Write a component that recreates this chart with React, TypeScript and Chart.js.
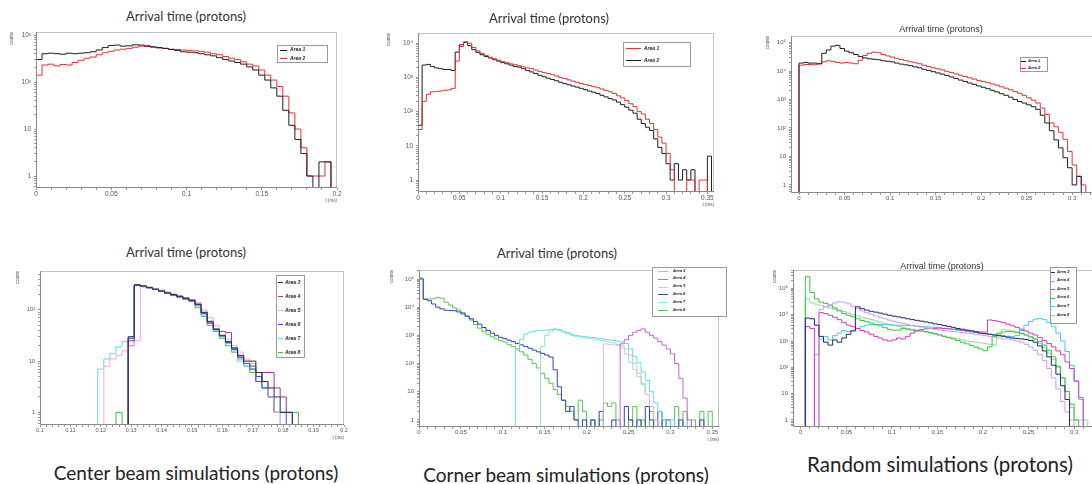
import React, { useEffect, useRef } from 'react';
import { Chart, registerables } from 'chart.js';

Chart.register(...registerables);

// ---------------- texts & tick labels ----------------
const PANEL_TITLE = 'Arrival time (protons)';
const CAPTION_CENTER = 'Center beam simulations (protons)';
const CAPTION_CORNER = 'Corner beam simulations (protons)';
const CAPTION_RANDOM = 'Random simulations (protons)';
const Y_TITLE = 'counts';
const X_TITLE = 't (ms)';

const Y_DECADE_LABELS = ['1', '10', '10²', '10³', '10⁴', '10⁵'];
const X_LABELS_P1 = ['0', '0.05', '0.1', '0.15', '0.2'];
const X_LABELS_P2 = ['0', '0.05', '0.1', '0.15', '0.2', '0.25', '0.3', '0.35'];
const X_LABELS_P3 = ['0', '0.05', '0.1', '0.15', '0.2', '0.25', '0.3'];
const X_LABELS_P4 = ['0.1', '0.11', '0.12', '0.13', '0.14', '0.15', '0.16', '0.17', '0.18', '0.19', '0.2'];

// ---------------- data: top-left (center beam, areas 1-2) ----------------
const P1_BIN = 0.004;
const P1_START = 0;
const P1_AREA1 = [300, 400, 410, 400, 390, 410, 400, 410, 420, 440, 480, 540, 600, 610, 580, 590, 620, 610, 590, 560, 540, 520, 490, 470, 440, 430, 420, 400, 380, 360, 330, 300, 280, 260, 240, 210, 180, 140, 110, 75, 50, 25, 12, 6, 3, 1, 0, 2, 2, 0];
const P1_AREA2 = [140, 230, 240, 220, 235, 230, 260, 290, 320, 340, 380, 420, 450, 480, 500, 520, 550, 580, 570, 550, 530, 520, 500, 490, 480, 470, 460, 450, 430, 400, 380, 350, 320, 300, 270, 240, 220, 180, 140, 110, 80, 50, 22, 10, 4, 1, 1, 1, 2, 0];

// ---------------- data: top-middle (corner beam, areas 1-2) ----------------
const P2_BIN = 0.005;
const P2_START = 0;
const P2_AREA1 = [30, 200, 320, 380, 390, 400, 420, 430, 480, 3000, 8000, 11000, 10000, 7500, 6000, 5000, 4400, 3900, 3500, 3200, 2900, 2700, 2500, 2350, 2200, 2050, 1900, 1800, 1650, 1500, 1400, 1300, 1200, 1100, 1000, 930, 850, 780, 720, 670, 620, 580, 540, 500, 460, 420, 380, 340, 290, 250, 210, 170, 140, 100, 85, 60, 45, 30, 18, 12, 6, 2, 0, 0, 0, 1, 1, 0, 1, 1, 0, 0];
const P2_AREA2 = [40, 2300, 2400, 2100, 1900, 1800, 1700, 1700, 1600, 5500, 9000, 10500, 8500, 6500, 5400, 4600, 4100, 3700, 3300, 3000, 2700, 2500, 2300, 2100, 2000, 1800, 1600, 1450, 1300, 1150, 1050, 950, 870, 800, 720, 660, 610, 560, 520, 480, 440, 400, 370, 340, 300, 270, 240, 220, 190, 160, 135, 110, 90, 60, 45, 35, 28, 16, 9, 6, 3, 1, 3, 1, 2, 1, 2, 0, 0, 0, 5, 0];

// ---------------- data: top-right (random, areas 1-2) ----------------
const P3_BIN = 0.005;
const P3_START = 0;
const P3_AREA1 = [19000, 20000, 19000, 19000, 18000, 42000, 55000, 75000, 80000, 62000, 50000, 44000, 38000, 32000, 29000, 27000, 26000, 25000, 23000, 22000, 21000, 19000, 17500, 16500, 15500, 14000, 13000, 11500, 10500, 9500, 8600, 7800, 7000, 6200, 5500, 4800, 4300, 3800, 3400, 3000, 2700, 2400, 2100, 1850, 1600, 1400, 1200, 1000, 850, 750, 650, 560, 450, 280, 150, 80, 38, 20, 9, 4, 1, 2, 0, 0];
const P3_AREA2 = [16000, 17000, 17000, 16500, 18000, 21000, 23000, 22000, 20000, 19000, 20000, 19000, 18000, 24000, 35000, 42000, 46000, 44000, 38000, 34000, 31000, 28000, 25500, 23000, 21000, 19500, 18000, 16000, 14500, 13000, 12000, 11000, 9800, 8800, 7900, 7100, 6400, 5800, 5200, 4700, 4300, 3900, 3500, 3200, 2800, 2500, 2200, 1900, 1650, 1400, 1150, 950, 750, 500, 300, 150, 110, 70, 40, 15, 5, 2, 1, 0];

// ---------------- data: bottom-left (center beam, areas 3-8) ----------------
const P4_BIN = 0.002;
const P4_AREA3_START = 0.129;
const P4_AREA3 = [30, 310, 295, 275, 255, 235, 215, 200, 185, 170, 155, 130, 90, 60, 42, 32, 24, 18, 13, 10, 10, 6, 4, 3, 2, 1, 1];
const P4_AREA4_START = 0.129;
const P4_AREA4 = [25, 300, 290, 270, 250, 230, 210, 195, 180, 165, 150, 125, 85, 55, 42, 38, 36, 18, 12, 9, 7, 4, 6, 6, 3, 2, 1];
const P4_AREA5_START = 0.121;
const P4_AREA5 = [8, 11, 13, 16, 20, 25, 280, 280, 260, 245, 225, 205, 190, 175, 160, 140, 100, 70, 50, 38, 27, 20, 15, 11, 9, 6, 4, 2, 1];
const P4_AREA6_START = 0.129;
const P4_AREA6 = [28, 305, 290, 272, 252, 232, 212, 198, 182, 168, 152, 128, 88, 58, 42, 31, 23, 17, 12, 9, 8, 5, 3, 2, 1, 1];
const P4_AREA7_START = 0.119;
const P4_AREA7 = [7, 11, 14, 19, 24, 28, 300, 290, 270, 250, 230, 210, 195, 180, 165, 150, 120, 80, 55, 40, 30, 22, 16, 10, 8, 7, 5, 3, 2, 1];
const P4_AREA8_START = 0.125;
const P4_AREA8 = [1, 0, 20, 300, 290, 270, 250, 230, 210, 190, 175, 160, 145, 110, 75, 50, 38, 28, 20, 15, 11, 8, 6, 4, 3, 2, 1, 1, 1, 1];

// ---------------- data: bottom-middle (corner beam, areas 3-8) ----------------
const P5_BIN = 0.005;
const P5_AREA3_START = 0.115;
const P5_AREA3 = [300, 700, 1100, 1300, 1400, 1500, 1500, 1550, 1600, 1700, 1600, 1400, 1250, 1100, 1000, 950, 900, 870, 840, 800, 760, 720, 690, 660, 620, 580, 520, 330, 180, 110, 50, 25, 10, 4, 2, 1, 0, 1];
const P5_AREA4_START = 0.24;
const P5_AREA4 = [500, 700, 1000, 1300, 1500, 1700, 1300, 1000, 800, 600, 450, 330, 220, 100, 30, 6, 1];
const P5_AREA5_START = 0.22;
const P5_AREA5 = [500, 480, 460, 440, 420, 330, 200, 100, 45, 20, 8, 3, 1];
const P5_AREA6_START = 0;
const P5_AREA6 = [100000, 19000, 17000, 13000, 10000, 8700, 7800, 7600, 7500, 6800, 5800, 4800, 3900, 3100, 2500, 1900, 1500, 1200, 1000, 850, 760, 680, 600, 520, 460, 400, 350, 300, 260, 230, 200, 170, 60, 15, 5, 2, 3, 1, 0, 1, 0, 1, 0, 2, 0, 0, 1, 0, 0, 3, 1, 0, 1, 0, 3, 1, 0, 2, 0, 1, 0, 0, 1, 0, 0, 0, 0, 1, 0, 0, 0, 0];
const P5_AREA7_START = 0.145;
const P5_AREA7 = [400, 1000, 1400, 1600, 1500, 1300, 1150, 1000, 920, 870, 820, 780, 740, 700, 660, 620, 580, 540, 480, 350, 220, 110, 60, 35, 18, 8, 3, 1];
const P5_AREA8_START = 0;
const P5_AREA8 = [110000, 19500, 19500, 20000, 22000, 21000, 15000, 12000, 9500, 8000, 6500, 4800, 3500, 2400, 1800, 1400, 1100, 900, 750, 650, 580, 480, 400, 330, 260, 200, 140, 100, 70, 45, 30, 20, 12, 8, 5, 3, 2, 1, 5, 2, 0, 1, 0, 1, 4, 3, 4, 1, 0, 0, 1, 3, 0, 1, 0, 2, 0, 0, 1, 0, 0, 3, 0, 2, 0, 1, 0, 2, 0, 2, 0, 0];

// ---------------- data: bottom-right (random, areas 3-8) ----------------
const P6_BIN = 0.005;
const P6_AREA3_START = 0.005;
const P6_AREA3 = [7500, 7000, 4000, 1500, 900, 700, 1100, 900, 1300, 1800, 2400, 20000, 17000, 15000, 13500, 12500, 11500, 10500, 9500, 8800, 8200, 7600, 7000, 6500, 6100, 5700, 5300, 4900, 4500, 4200, 3900, 3600, 3300, 3000, 2800, 2600, 2400, 2200, 2000, 1900, 1800, 1700, 1600, 1500, 1400, 1300, 1250, 1200, 1150, 1050, 900, 650, 420, 250, 120, 55, 20, 6];
const P6_AREA4_START = 0.02;
const P6_AREA4 = [16000, 20000, 24000, 28000, 31000, 30000, 26000, 21000, 17000, 14000, 12000, 10500, 9000, 8000, 7000, 6200, 5600, 5000, 4600, 4200, 3900, 3600, 3400, 3200, 3000, 2800, 2600, 2500, 2400, 2300, 2200, 2100, 2000, 1900, 1800, 1700, 1600, 1500, 1400, 1300, 1200, 1200, 1100, 1000, 900, 750, 600, 450, 300, 180, 90, 40, 15, 5, 2, 1];
const P6_AREA5_START = 0.005;
const P6_AREA5 = [3500, 3000, 0, 12000, 11000, 9500, 8000, 6500, 5000, 4000, 3500, 3000, 2500, 2200, 1800, 1500, 1300, 1100, 1000, 1100, 1300, 1200, 1500, 2000, 2400, 2700, 2900, 3000, 3000, 3100, 3000, 2900, 2800, 2700, 2600, 2500, 2400, 2300, 2200, 2200, 6300, 6000, 5500, 5000, 4400, 3800, 3300, 2800, 2400, 2000, 1700, 1350, 1050, 800, 600, 420, 300, 160, 90, 30, 7];
const P6_AREA6_START = 0.005;
const P6_AREA6 = [280000, 70000, 40000, 30000, 27000, 22000, 18000, 14000, 11000, 9500, 8400, 7000, 6000, 5400, 4800, 4200, 3800, 3200, 2800, 2600, 2600, 3000, 2800, 2600, 2500, 2400, 2300, 2100, 1900, 1700, 1500, 1350, 1200, 1050, 900, 780, 680, 580, 500, 430, 600, 1500, 2000, 2200, 2300, 2250, 2100, 1900, 1700, 1450, 1200, 950, 700, 450, 250, 110, 40, 12, 4, 1];
const P6_AREA7_START = 0.015;
const P6_AREA7 = [300, 1200, 1500, 1100, 1600, 2000, 2500, 2300, 2600, 3000, 3500, 4000, 4200, 4300, 4300, 4200, 4100, 4000, 4000, 3900, 3900, 3800, 3700, 3600, 3500, 3400, 3300, 3200, 3000, 2900, 2800, 2600, 2500, 2300, 2200, 2100, 2000, 1900, 1800, 1700, 1600, 1600, 1500, 1500, 1600, 2500, 4000, 5500, 6800, 7200, 6500, 5000, 3500, 2000, 1000, 400, 120, 30, 6];
const P6_AREA8_START = 0.005;
const P6_AREA8 = [40000, 28000, 25000, 22000, 20000, 18000, 16000, 14500, 13000, 11500, 10000, 9000, 8000, 7200, 6500, 5800, 5200, 4700, 4300, 3900, 3600, 3300, 3000, 2800, 2600, 2400, 2200, 2000, 1850, 1700, 1550, 1400, 1300, 1200, 1100, 1000, 950, 900, 850, 800, 750, 700, 1800, 2800, 2600, 2400, 2200, 2000, 1700, 1400, 1100, 800, 550, 350, 200, 100, 40, 12, 3, 1, 1, 1];

// ---------------- helpers ----------------
type Hist = { label: string; color: string; start: number; width: number; counts: number[] };
type LegendCfg = { x: number; y: number; w: number; h: number; rows: number[]; lineX: number; lineW: number; textX: number; font: number };
type PanelCfg = {
  L: number; T: number; R: number; B: number;
  padL: number; padR: number; padT: number; padB: number;
  xMin: number; xMax: number; yMin: number; yMax: number;
  xLabels: string[]; xMinor: number; tickFont: number; axisTitleFont: number;
  hists: Hist[];
  legend: LegendCfg;
};

const EMPTY = 0.05; // empty bins sit below every axis minimum (drawn at frame bottom)

function toSteps(h: Hist) {
  const pts: { x: number; y: number }[] = [{ x: h.start, y: EMPTY }];
  h.counts.forEach((c, i) => pts.push({ x: h.start + i * h.width, y: c > 0 ? c : EMPTY }));
  pts.push({ x: h.start + h.counts.length * h.width, y: EMPTY });
  return pts;
}

const rows = (first: number, step: number, n: number) => Array.from({ length: n }, (_, i) => first + i * step);

const framePlugin = {
  id: 'rootFrame',
  afterDatasetsDraw(chart: any) {
    const { ctx, chartArea } = chart;
    const { left, top, right, bottom } = chartArea;
    ctx.save();
    ctx.lineWidth = 1;
    ctx.strokeStyle = '#c4c4c4';
    ctx.strokeRect(Math.round(left) + 0.5, Math.round(top) + 0.5, Math.round(right - left) - 1, Math.round(bottom - top) - 1);
    ctx.strokeStyle = '#8a8a8a';
    ctx.beginPath();
    ctx.moveTo(Math.round(left) + 0.5, Math.round(top));
    ctx.lineTo(Math.round(left) + 0.5, Math.round(bottom) - 0.5);
    ctx.lineTo(Math.round(right), Math.round(bottom) - 0.5);
    ctx.stroke();
    ctx.restore();
  },
};

// ---------------- panel definitions ----------------
const C_BLACK = '#1e1e1e';
const C_RED = '#e23232';

const PANELS: PanelCfg[] = [
  {
    L: 36, T: 32, R: 337, B: 188, padL: 27, padR: 12, padT: 8, padB: 15,
    xMin: 0, xMax: 0.2, yMin: 0.556, yMax: 1159,
    xLabels: X_LABELS_P1, xMinor: 0.01, tickFont: 6.5, axisTitleFont: 4.5,
    hists: [
      { label: 'Area 1', color: C_BLACK, start: P1_START, width: P1_BIN, counts: P1_AREA1 },
      { label: 'Area 2', color: C_RED, start: P1_START, width: P1_BIN, counts: P1_AREA2 },
    ],
    legend: { x: 277, y: 45, w: 51, h: 18, rows: [49.5, 58], lineX: 280, lineW: 7, textX: 290, font: 5 },
  },
  {
    L: 418, T: 33, R: 714, B: 192, padL: 32, padR: 12, padT: 8, padB: 15,
    xMin: 0, xMax: 0.358, yMin: 0.447, yMax: 19900,
    xLabels: X_LABELS_P2, xMinor: 0.01, tickFont: 6.5, axisTitleFont: 4.5,
    hists: [
      { label: 'Area 1', color: C_RED, start: P2_START, width: P2_BIN, counts: P2_AREA1 },
      { label: 'Area 2', color: C_BLACK, start: P2_START, width: P2_BIN, counts: P2_AREA2 },
    ],
    legend: { x: 623, y: 42, w: 68, h: 25, rows: [48, 60], lineX: 626, lineW: 15, textX: 644, font: 5 },
  },
  {
    L: 791, T: 36, R: 1104, B: 193, padL: 26, padR: 12, padT: 8, padB: 15,
    xMin: -0.0088, xMax: 0.335, yMin: 0.52, yMax: 170000,
    xLabels: X_LABELS_P3, xMinor: 0.01, tickFont: 6, axisTitleFont: 4.5,
    hists: [
      { label: 'Area 1', color: C_BLACK, start: P3_START, width: P3_BIN, counts: P3_AREA1 },
      { label: 'Area 2', color: C_RED, start: P3_START, width: P3_BIN, counts: P3_AREA2 },
    ],
    legend: { x: 1020, y: 57, w: 28, h: 15, rows: [61, 68], lineX: 1021, lineW: 5, textX: 1028, font: 4 },
  },
  {
    L: 39.5, T: 271, R: 343, B: 425, padL: 25, padR: 12, padT: 8, padB: 15,
    xMin: 0.1, xMax: 0.2, yMin: 0.567, yMax: 575,
    xLabels: X_LABELS_P4, xMinor: 0.002, tickFont: 5.5, axisTitleFont: 4.5,
    hists: [
      { label: 'Area 3', color: '#1f3048', start: P4_AREA3_START, width: P4_BIN, counts: P4_AREA3 },
      { label: 'Area 4', color: '#a52ea8', start: P4_AREA4_START, width: P4_BIN, counts: P4_AREA4 },
      { label: 'Area 5', color: '#f2a6e0', start: P4_AREA5_START, width: P4_BIN, counts: P4_AREA5 },
      { label: 'Area 6', color: '#3352c8', start: P4_AREA6_START, width: P4_BIN, counts: P4_AREA6 },
      { label: 'Area 7', color: '#58dcee', start: P4_AREA7_START, width: P4_BIN, counts: P4_AREA7 },
      { label: 'Area 8', color: '#44bb44', start: P4_AREA8_START, width: P4_BIN, counts: P4_AREA8 },
    ],
    legend: { x: 276, y: 275, w: 29, h: 83, rows: rows(282, 14, 6), lineX: 278, lineW: 5, textX: 285, font: 5 },
  },
  {
    L: 419, T: 270, R: 719, B: 427, padL: 30, padR: 12, padT: 8, padB: 15,
    xMin: 0, xMax: 0.358, yMin: 0.56, yMax: 209000,
    xLabels: X_LABELS_P2, xMinor: 0.01, tickFont: 6, axisTitleFont: 4.5,
    hists: [
      { label: 'Area 3', color: '#62dcec', start: P5_AREA3_START, width: P5_BIN, counts: P5_AREA3 },
      { label: 'Area 4', color: '#d85ad8', start: P5_AREA4_START, width: P5_BIN, counts: P5_AREA4 },
      { label: 'Area 5', color: '#d9bfc8', start: P5_AREA5_START, width: P5_BIN, counts: P5_AREA5 },
      { label: 'Area 6', color: '#3142b4', start: P5_AREA6_START, width: P5_BIN, counts: P5_AREA6 },
      { label: 'Area 7', color: '#96e6c6', start: P5_AREA7_START, width: P5_BIN, counts: P5_AREA7 },
      { label: 'Area 8', color: '#52c852', start: P5_AREA8_START, width: P5_BIN, counts: P5_AREA8 },
    ],
    legend: { x: 652, y: 267, w: 75, h: 50, rows: rows(271, 7.8, 6), lineX: 658, lineW: 10, textX: 673, font: 4 },
  },
  {
    L: 793, T: 270, R: 1106, B: 427, padL: 21, padR: 12, padT: 8, padB: 15,
    xMin: -0.0085, xMax: 0.335, yMin: 0.54, yMax: 500000,
    xLabels: X_LABELS_P3, xMinor: 0.01, tickFont: 6, axisTitleFont: 4.5,
    hists: [
      { label: 'Area 3', color: '#1c2a6c', start: P6_AREA3_START, width: P6_BIN, counts: P6_AREA3 },
      { label: 'Area 4', color: '#cc9cee', start: P6_AREA4_START, width: P6_BIN, counts: P6_AREA4 },
      { label: 'Area 5', color: '#dc34c8', start: P6_AREA5_START, width: P6_BIN, counts: P6_AREA5 },
      { label: 'Area 6', color: '#36c636', start: P6_AREA6_START, width: P6_BIN, counts: P6_AREA6 },
      { label: 'Area 7', color: '#3ccbee', start: P6_AREA7_START, width: P6_BIN, counts: P6_AREA7 },
      { label: 'Area 8', color: '#8cdc9a', start: P6_AREA8_START, width: P6_BIN, counts: P6_AREA8 },
    ],
    legend: { x: 1050, y: 267, w: 27, h: 57, rows: rows(272, 8.6, 6), lineX: 1051, lineW: 4, textX: 1057, font: 4 },
  },
];

// ---------------- components ----------------
function HistPanel({ cfg }: { cfg: PanelCfg }) {
  const ref = useRef<HTMLCanvasElement | null>(null);
  const w = Math.round(cfg.R - cfg.L + cfg.padL + cfg.padR);
  const h = Math.round(cfg.B - cfg.T + cfg.padT + cfg.padB);

  useEffect(() => {
    if (!ref.current) return;
    const labelVals = cfg.xLabels.map((s) => parseFloat(s));
    const xTickList: { value: number }[] = [];
    const k0 = Math.ceil(cfg.xMin / cfg.xMinor - 1e-6);
    const k1 = Math.floor(cfg.xMax / cfg.xMinor + 1e-6);
    for (let k = k0; k <= k1; k++) xTickList.push({ value: +(k * cfg.xMinor).toFixed(6) });

    const yTickList: { value: number }[] = [];
    const e0 = Math.floor(Math.log10(cfg.yMin));
    const e1 = Math.ceil(Math.log10(cfg.yMax));
    for (let e = e0; e <= e1; e++) {
      for (let m = 1; m <= 9; m++) {
        const v = m * Math.pow(10, e);
        if (v >= cfg.yMin && v <= cfg.yMax) yTickList.push({ value: v });
      }
    }

    const tickFont = { family: '"Liberation Sans", Arial, sans-serif', size: cfg.tickFont };
    const titleFont = { family: '"Liberation Sans", Arial, sans-serif', size: cfg.axisTitleFont };

    const chart = new Chart(ref.current, {
      type: 'line',
      data: {
        datasets: cfg.hists.map((hs) => ({
          label: hs.label,
          data: toSteps(hs),
          borderColor: hs.color,
          backgroundColor: hs.color,
          borderWidth: 1,
          pointRadius: 0,
          stepped: true,
          fill: false,
          tension: 0,
          clip: 0,
        })),
      },
      options: {
        animation: false,
        responsive: false,
        maintainAspectRatio: false,
        events: [],
        layout: { padding: { left: 0, top: cfg.padT, right: cfg.padR, bottom: 0 } },
        plugins: { legend: { display: false }, tooltip: { enabled: false }, title: { display: false } },
        scales: {
          x: {
            type: 'linear',
            bounds: 'data',
            min: cfg.xMin,
            max: cfg.xMax,
            afterBuildTicks: (s: any) => { s.ticks = xTickList.map((t) => ({ ...t })); },
            afterFit: (s: any) => { s.height = cfg.padB; },
            ticks: {
              autoSkip: false,
              maxRotation: 0,
              minRotation: 0,
              padding: 0,
              color: '#555',
              font: tickFont,
              callback: (v: any) => {
                const i = labelVals.findIndex((lv) => Math.abs(lv - Number(v)) < 1e-6);
                return i >= 0 ? cfg.xLabels[i] : '';
              },
            },
            grid: { drawOnChartArea: false, drawTicks: true, tickLength: 2, color: '#9a9a9a' },
            border: { display: false },
            title: { display: true, text: X_TITLE, align: 'end', color: '#555', font: titleFont, padding: 0 },
          },
          y: {
            type: 'logarithmic',
            bounds: 'data',
            min: cfg.yMin,
            max: cfg.yMax,
            afterBuildTicks: (s: any) => { s.ticks = yTickList.map((t) => ({ ...t })); },
            afterFit: (s: any) => { s.width = cfg.padL; },
            ticks: {
              autoSkip: false,
              padding: 3,
              color: '#555',
              font: tickFont,
              callback: (v: any) => {
                const e = Math.round(Math.log10(Number(v)));
                if (e >= 0 && e < Y_DECADE_LABELS.length && Math.abs(Number(v) - Math.pow(10, e)) < 1e-6 * Math.pow(10, e)) {
                  return Y_DECADE_LABELS[e];
                }
                return '';
              },
            },
            grid: { drawOnChartArea: false, drawTicks: true, tickLength: 2, color: '#9a9a9a' },
            border: { display: false },
            title: { display: true, text: Y_TITLE, align: 'end', color: '#555', font: titleFont, padding: 0 },
          },
        },
      } as any,
      plugins: [framePlugin],
    });
    return () => chart.destroy();
  }, []);

  return (
    <canvas
      ref={ref}
      width={w}
      height={h}
      style={{ position: 'absolute', left: Math.round(cfg.L - cfg.padL), top: Math.round(cfg.T - cfg.padT), width: w, height: h }}
    />
  );
}

function RootLegend({ cfg, hists }: { cfg: LegendCfg; hists: Hist[] }) {
  return (
    <>
      <div
        style={{
          position: 'absolute', left: cfg.x, top: cfg.y, width: cfg.w, height: cfg.h,
          border: '1px solid #9a9a9a', background: '#fff', boxSizing: 'border-box',
        }}
      />
      {hists.map((hs, i) => (
        <React.Fragment key={hs.label}>
          <div
            style={{
              position: 'absolute', left: cfg.lineX, top: cfg.rows[i], width: cfg.lineW, height: 0,
              borderTop: `1px solid ${hs.color}`,
            }}
          />
          <div
            style={{
              position: 'absolute', left: cfg.textX, top: cfg.rows[i] - cfg.font * 0.62,
              fontFamily: '"Liberation Sans", Arial, sans-serif', fontSize: cfg.font, lineHeight: 1.2,
              fontStyle: 'italic', fontWeight: 'bold', color: '#222', whiteSpace: 'nowrap',
            }}
          >
            {hs.label}
          </div>
        </React.Fragment>
      ))}
    </>
  );
}

function Text({ x, y, size, family, color, children }: { x: number; y: number; size: number; family: string; color: string; children: React.ReactNode }) {
  return (
    <div
      style={{
        position: 'absolute', left: x, top: y, transform: 'translate(-50%, -50%)',
        fontFamily: family, fontSize: size, lineHeight: 1, color, whiteSpace: 'nowrap',
      }}
    >
      {children}
    </div>
  );
}

const SLIDE_FONT = 'Lato, "Open Sans", sans-serif';
const ROOT_FONT = '"Liberation Sans", Arial, sans-serif';

export default function App() {
  return (
    <div style={{ position: 'absolute', left: 0, top: 0, width: 1092, height: 484, overflow: 'hidden', background: '#fff' }}>
      {PANELS.map((p, i) => (
        <HistPanel key={i} cfg={p} />
      ))}
      {PANELS.map((p, i) => (
        <RootLegend key={'lg' + i} cfg={p.legend} hists={p.hists} />
      ))}
      <Text x={186} y={16} size={13} family={SLIDE_FONT} color="#333">{PANEL_TITLE}</Text>
      <Text x={549} y={18} size={13} family={SLIDE_FONT} color="#333">{PANEL_TITLE}</Text>
      <Text x={941} y={29} size={9} family={ROOT_FONT} color="#333">{PANEL_TITLE}</Text>
      <Text x={186} y={252} size={13} family={SLIDE_FONT} color="#333">{PANEL_TITLE}</Text>
      <Text x={557} y={253} size={13} family={SLIDE_FONT} color="#333">{PANEL_TITLE}</Text>
      <Text x={942} y={266} size={9} family={ROOT_FONT} color="#333">{PANEL_TITLE}</Text>
      <Text x={196} y={472} size={19} family={SLIDE_FONT} color="#222">{CAPTION_CENTER}</Text>
      <Text x={566} y={474} size={19} family={SLIDE_FONT} color="#222">{CAPTION_CORNER}</Text>
      <Text x={940} y={464} size={20.5} family={SLIDE_FONT} color="#222">{CAPTION_RANDOM}</Text>
    </div>
  );
}
